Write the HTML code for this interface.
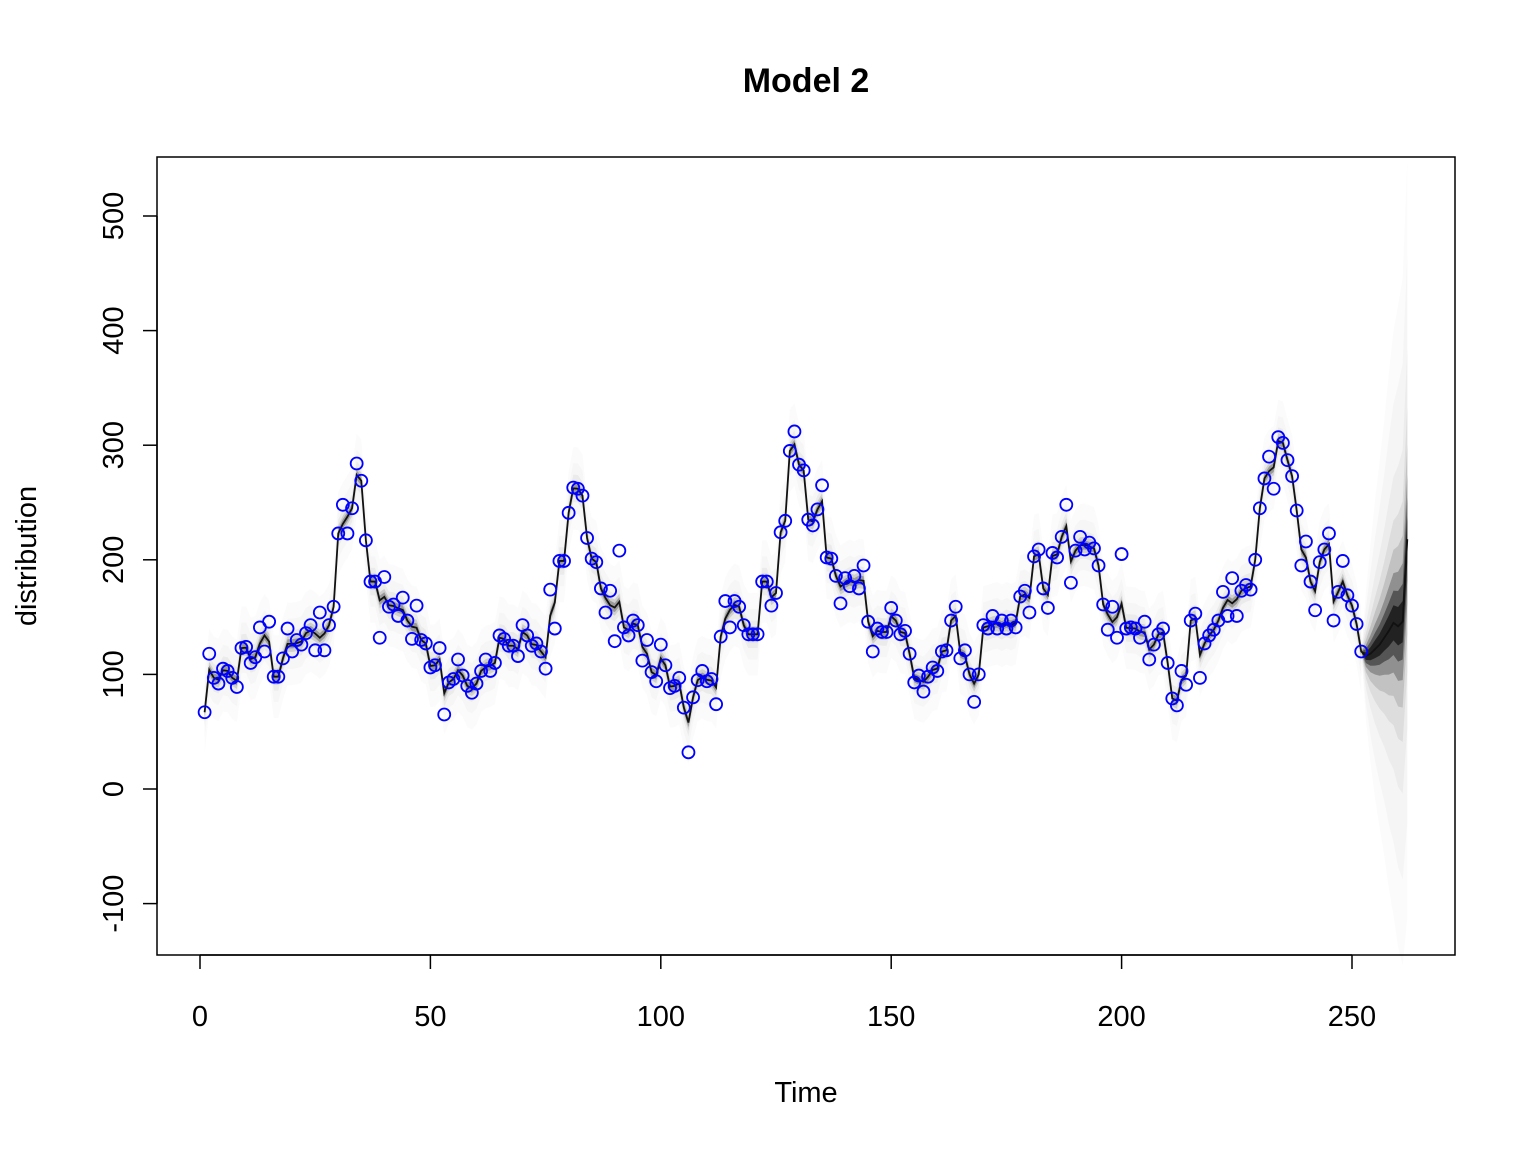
<!DOCTYPE html>
<html><head><meta charset="utf-8"><style>
html,body{margin:0;padding:0;background:#fff}
svg{display:block;font-family:"Liberation Sans",Arial,sans-serif}
</style></head><body>
<svg id="chart" width="1536" height="1152" viewBox="0 0 1536 1152">
<rect width="1536" height="1152" fill="#fff"/>
<text x="806" y="92" text-anchor="middle" font-size="34" font-weight="bold">Model 2</text>
<g id="fan"></g>
<g id="fc"></g>
<g id="line"></g>
<g id="pts"></g>
<rect x="157" y="157" width="1298" height="798" fill="none" stroke="#000" stroke-width="1.5"/>
<g id="axes"></g>
<text x="806" y="1102" text-anchor="middle" font-size="29">Time</text>
<text transform="translate(36,556) rotate(-90)" text-anchor="middle" font-size="29">distribution</text>
</svg>
<script>
const obs=[67,118,97,92,105,103,97,89,123,124,110,115,141,120,146,98,98,114,140,120,130,126,136,143,121,154,121,143,159,223,248,223,245,284,269,217,181,181,132,185,159,161,151,167,147,131,160,130,127,106,108,123,65,93,96,113,99,90,84,92,103,113,103,110,134,131,125,125,116,143,134,125,127,120,105,174,140,199,199,241,263,262,256,219,201,198,175,154,173,129,208,141,134,147,143,112,130,102,94,126,108,88,90,97,71,32,80,95,103,94,96,74,133,164,141,164,159,143,135,135,135,181,181,160,171,224,234,295,312,283,278,235,230,244,265,202,201,186,162,184,177,186,175,195,146,120,140,137,137,158,147,135,138,118,93,99,85,98,106,103,120,121,147,159,114,121,100,76,100,143,140,151,140,147,140,147,141,168,173,154,203,209,175,158,206,202,220,248,180,208,220,209,215,210,195,161,139,159,132,205,140,141,140,132,146,113,126,135,140,110,79,73,103,91,147,153,97,127,134,139,147,172,151,184,151,173,178,174,200,245,271,290,262,307,302,287,273,243,195,216,181,156,198,209,223,147,172,199,169,160,144,120];
const fcTime=[252,253,254,255,256,257,258,259,260,261,262];
const fcMedian=[120,116,118,122,126,132,138,145,142,146,218];
const fcSpread=[0,55,95,130,160,190,225,255,280,300,330];
const xTicks=[0,50,100,150,200,250];
const yTicks=[-100,0,100,200,300,400,500];
const X=t=>200+4.608*t, Y=v=>789-1.146*v;
const NS="http://www.w3.org/2000/svg";
function mk(tag,parent){const e=document.createElementNS(NS,tag);parent.appendChild(e);return e;}
const mean=obs.map((v,i)=>{if(i===0||i===obs.length-1)return v;const a=[obs[i-1],v,obs[i+1]].sort((p,q)=>p-q);return (a[1]*2+v)/3;});
const fan=document.getElementById('fan');
[[36,'#fbfbfb'],[22,'#f6f6f6'],[12,'#ebebeb'],[7,'#cfcfcf'],[4,'#9a9a9a']].forEach(([w,c])=>{
 const up=mean.map((v,i)=>X(i+1)+','+Y(v+w)).join(' ');
 const dn=mean.map((v,i)=>X(i+1)+','+Y(v-w)).reverse().join(' ');
 const p=mk('polygon',fan);p.setAttribute('points',up+' '+dn);p.setAttribute('fill',c);
 
 
});
const fc=document.getElementById('fc');
[[1,'#fbfbfb'],[0.75,'#f5f5f5'],[0.5,'#ececec'],[0.35,'#dddddd'],[0.25,'#c2c2c2'],[0.17,'#909090'],[0.11,'#555555'],[0.06,'#222222']].forEach(([k,c])=>{
 const up=fcTime.map((t,i)=>X(t)+','+Y(fcMedian[i]+k*fcSpread[i])).join(' ');
 const dn=fcTime.map((t,i)=>X(t)+','+Y(fcMedian[i]-k*fcSpread[i])).reverse().join(' ');
 const p=mk('polygon',fc);p.setAttribute('points',up+' '+dn);p.setAttribute('fill',c);
 
 
});
const ln=mk('polyline',document.getElementById('line'));
ln.setAttribute('points',mean.map((v,i)=>X(i+1)+','+Y(v)).join(' ')+' '+fcTime.slice(1).map((t,i)=>X(t)+','+Y(fcMedian[i+1])).join(' '));
ln.setAttribute('fill','none');ln.setAttribute('stroke','#111');ln.setAttribute('stroke-width','1.8');


const pts=document.getElementById('pts');
obs.forEach((v,i)=>{const c=mk('circle',pts);c.setAttribute('cx',X(i+1));c.setAttribute('cy',Y(v));c.setAttribute('r',6);
 c.setAttribute('fill','none');c.setAttribute('stroke','#0000ff');c.setAttribute('stroke-width','1.8');
 
 
});
const ax=document.getElementById('axes');
const xl=mk('line',ax);xl.setAttribute('x1',X(0));xl.setAttribute('x2',X(250));xl.setAttribute('y1',955);xl.setAttribute('y2',955);xl.setAttribute('stroke','#000');xl.setAttribute('stroke-width','1.5');


xTicks.forEach(t=>{const l=mk('line',ax);l.setAttribute('x1',X(t));l.setAttribute('x2',X(t));l.setAttribute('y1',955);l.setAttribute('y2',969);l.setAttribute('stroke','#000');l.setAttribute('stroke-width','1.5');
 
 
 const tx=mk('text',ax);tx.setAttribute('x',X(t));tx.setAttribute('y',1026);tx.setAttribute('text-anchor','middle');tx.setAttribute('font-size','29');tx.textContent=t;
 
 
});
const yl=mk('line',ax);yl.setAttribute('x1',157);yl.setAttribute('x2',157);yl.setAttribute('y1',Y(-100));yl.setAttribute('y2',Y(500));yl.setAttribute('stroke','#000');yl.setAttribute('stroke-width','1.5');


yTicks.forEach(v=>{const l=mk('line',ax);l.setAttribute('x1',143);l.setAttribute('x2',157);l.setAttribute('y1',Y(v));l.setAttribute('y2',Y(v));l.setAttribute('stroke','#000');l.setAttribute('stroke-width','1.5');
 
 
 const tx=mk('text',ax);tx.setAttribute('transform','translate(123,'+Y(v)+') rotate(-90)');tx.setAttribute('text-anchor','middle');tx.setAttribute('font-size','29');tx.textContent=v;
 
 
});
</script>
</body></html>
